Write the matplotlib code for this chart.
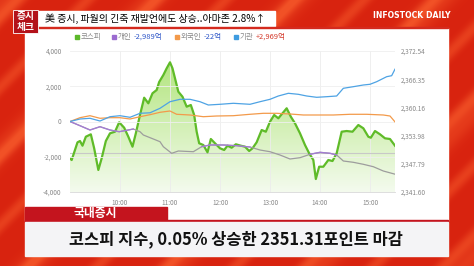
import numpy as np
import matplotlib.pyplot as plt
from matplotlib.patches import Rectangle
from matplotlib.colors import LinearSegmentedColormap

plt.rcParams['font.family'] = ['Noto Sans CJK KR', 'DejaVu Sans']

# minutes after 09:00
kospi_t = [0, 2, 9, 12, 15, 19, 25, 29, 34, 38, 43, 48, 54, 59, 65, 70, 75, 79, 84, 89,
           94, 99, 104, 107, 112, 116, 120, 123, 126, 130, 135, 140, 145, 149, 152, 155,
           160, 165, 169, 174, 180, 185, 189, 194, 199, 205, 210, 215, 219, 224, 230,
           235, 240, 245, 250, 255, 260, 265, 270, 276, 282, 287, 292, 295, 299, 304,
           310, 315, 320, 326, 332, 339, 346, 352, 358, 361, 366, 372, 378, 384, 390]
kospi = [2348.99, 2348.62, 2352.50, 2352.79, 2351.76, 2353.73, 2354.26, 2351.19, 2346.43,
         2348.99, 2352.79, 2354.48, 2354.83, 2356.89, 2355.71, 2353.73, 2351.54, 2354.48,
         2358.50, 2362.29, 2361.06, 2363.26, 2363.98, 2365.74, 2367.27, 2368.74, 2370.06,
         2368.74, 2366.55, 2363.61, 2362.51, 2360.32, 2360.69, 2358.50, 2354.83, 2352.29,
         2351.91, 2350.31, 2353.23, 2352.29, 2351.19, 2350.82, 2351.76, 2351.32, 2352.07,
         2351.76, 2351.54, 2350.60, 2351.19, 2352.51, 2355.20, 2354.83, 2357.03, 2358.50,
         2357.77, 2358.87, 2359.97, 2358.12, 2356.67, 2354.48, 2351.91, 2350.09, 2348.62,
         2344.45, 2347.15, 2347.15, 2348.62, 2348.40, 2350.09, 2354.83, 2354.98, 2354.83,
         2356.30, 2355.58, 2353.73, 2353.51, 2354.98, 2354.26, 2353.38, 2353.23, 2351.76]
kospi_prev = 2350.13

indiv_t = [0, 12, 24, 36, 48, 59, 70, 76, 84, 88, 100, 108, 112, 122, 130, 148, 158, 168,
           184, 200, 216, 228, 240, 252, 264, 276, 288, 300, 312, 320, 328, 340, 352, 364,
           376, 390]
individual = [0, -238, -482, -295, -482, -579, -482, -426, -579, -766, -993, -1146, -1430,
              -1804, -1674, -1714, -1430, -1333, -1333, -1373, -1447, -1617, -1714, -1901,
              -2128, -2054, -1861, -1748, -1804, -1901, -2241, -2315, -2428, -2565, -2809,
              -2989]
# stretches where the individual line shows in purple (minutes)
indiv_purple = [(0, 80), (154, 226), (284, 322)]

foreign_t = [0, 12, 24, 36, 48, 60, 72, 84, 96, 108, 120, 128, 144, 160, 176, 196, 216,
             232, 248, 264, 280, 296, 316, 336, 356, 376, 384, 390]
foreign = [0, 216, 329, 182, 216, 216, 142, 272, 386, 522, 596, 409, 369, 272, 312, 329,
           409, 465, 465, 426, 369, 369, 369, 409, 409, 369, 312, -22]

inst_t = [0, 12, 24, 36, 48, 60, 72, 84, 96, 108, 120, 132, 144, 156, 166, 180, 196, 216,
          228, 240, 250, 262, 274, 284, 296, 308, 320, 328, 340, 352, 360, 368, 380, 386,
          390]
institution = [0, 142, 182, 28, 272, 329, 238, 465, 494, 749, 1123, 1259, 1259, 1123, 936,
               976, 1033, 976, 1123, 1259, 1447, 1600, 1543, 1447, 1373, 1407, 1447, 1884,
               1975, 2071, 2111, 2258, 2542, 2599, 2969]

hour_ticks = [60, 120, 180, 240, 300, 360]
hour_labels = ['10:00', '11:00', '12:00', '13:00', '14:00', '15:00']
left_ticks = [-4000, -2000, 0, 2000, 4000]
right_ticks = [2341.60, 2347.79, 2353.98, 2360.16, 2366.35, 2372.54]

W, H = 474, 266
fig = plt.figure(figsize=(W / 100, H / 100), dpi=100)

# red background with soft diagonal streaks
bg = fig.add_axes([0, 0, 1, 1])
bg.set_xlim(0, W)
bg.set_ylim(H, 0)
bg.axis('off')
xx, yy = np.meshgrid(np.arange(W), np.arange(H))
d = xx + yy
streak = (np.clip(np.sin(d / 11.0), 0, 1) ** 3 * 0.6
          + np.clip(np.sin(d / 23.0 + 1.3), 0, 1) ** 4 * 0.5)
streak = np.clip(streak, 0, 1)
base = np.array([0.85, 0.14, 0.06])
hi = np.array([0.98, 0.38, 0.18])
img = base + (hi - base) * streak[..., None] * 0.75
bg.imshow(img, extent=[0, W, H, 0], aspect='auto', zorder=0)

# header
bg.add_patch(Rectangle((38, 11), 237, 15, color='white', zorder=2))
bg.add_patch(Rectangle((13, 10), 25, 23, facecolor='#b3121a', edgecolor='white', lw=0.6, zorder=3))
bg.text(25.5, 16.5, '증시', color='white', fontsize=7, fontweight='bold', ha='center', va='center', zorder=4)
bg.text(25.5, 27, '체크', color='white', fontsize=7, fontweight='bold', ha='center', va='center', zorder=4)
bg.text(45, 18.5, '美 증시, 파월의 긴축 재발언에도 상승..아마존 2.8%↑', fontsize=7.2,
        color='black', ha='left', va='center', zorder=4)
bg.text(412, 15.5, 'INFOSTOCK DAILY', color='white', fontsize=5.6, fontweight='bold',
        family='DejaVu Sans', ha='center', va='center', zorder=4)

# chart panel
bg.add_patch(Rectangle((25, 28), 423, 193, color='white', zorder=2))
bg.add_patch(Rectangle((25, 27), 423, 1, color='#d42a1e', zorder=2))

# legend
leg = [(77, '#5cb82a', '코스피', None, None),
       (114, '#9b6bd0', '개인', '-2,989억', '#2f57c8'),
       (177, '#f39a4a', '외국인', '-22억', '#2f57c8'),
       (236, '#3f9ce0', '기관', '+2,969억', '#d43a2c')]
for x0, c, name, val, vc in leg:
    bg.add_patch(Rectangle((x0 - 2, 35), 4, 4, color=c, zorder=4))
    t = bg.text(x0 + 4, 37, name, fontsize=5.4, color='#888888', ha='left', va='center', zorder=4)
    if val:
        bg.annotate(val, xycoords=t, xy=(1, 0.5), xytext=(1.5, 0), textcoords='offset points',
                    fontsize=5.4, color=vc, ha='left', va='center', zorder=4)

# bottom caption
bg.add_patch(Rectangle((25, 207), 142, 14, color='#c4141e', zorder=3))
bg.add_patch(Rectangle((25, 220), 423, 2, color='#c4141e', zorder=3))
bg.text(95, 214, '국내증시', color='white', fontsize=8.5, fontweight='bold', ha='center', va='center', zorder=4)
bg.add_patch(Rectangle((25, 222), 423, 34, color='#f4f4f6', zorder=3))
bg.text(236, 239.5, '코스피 지수, 0.05% 상승한 2351.31포인트 마감', fontsize=11.8,
        fontweight='bold', color='#111111', ha='center', va='center', zorder=4)

# chart axes
left, right, top, bottom = 70, 395, 51, 192
ax_k = fig.add_axes([left / W, (H - bottom) / H, (right - left) / W, (bottom - top) / H])
ax_k.set_facecolor('none')

fill = ax_k.fill_between(kospi_t, kospi, right_ticks[0], color='none', lw=0)
grad = np.linspace(1, 0, 256).reshape(-1, 1)
cmap = LinearSegmentedColormap.from_list('g', ['#f4fbee', '#b3e57f'])
im = ax_k.imshow(grad, cmap=cmap, extent=[0, 390, right_ticks[0], max(kospi)],
                 aspect='auto', origin='upper', zorder=1)
im.set_clip_path(fill.get_paths()[0], transform=ax_k.transData)
ax_k.axhline(kospi_prev, color='#c8c8c8', lw=0.8, zorder=2)
ax_k.plot(kospi_t, kospi, color='#5fbb28', lw=1.6, zorder=3)
ax_k.set_xlim(0, 390)
ax_k.set_ylim(right_ticks[0], right_ticks[-1])

ax_k.set_xticks(hour_ticks)
ax_k.set_xticklabels(hour_labels)
ax_k.set_yticks(right_ticks)
ax_k.set_yticklabels([f'{v:,.2f}' for v in right_ticks])
ax_k.grid(axis='x', color='#ececec', lw=0.6)
for s in ['left', 'right', 'top']:
    ax_k.spines[s].set_visible(False)
ax_k.spines['bottom'].set_color('#d8d8d8')
ax_k.spines['bottom'].set_linewidth(0.6)

ax_i = ax_k.twinx()
ax_i.set_ylim(-4000, 4000)
ax_i.set_xlim(0, 390)
for y in [-2000, 0, 2000, 4000]:
    ax_i.axhline(y, color='#efefef', lw=0.6, zorder=0)
ax_i.plot(indiv_t, individual, color='#9d9d9d', lw=0.9, zorder=3)
for a, b in indiv_purple:
    seg_t = [t for t in indiv_t if a <= t <= b]
    seg_v = [v for t, v in zip(indiv_t, individual) if a <= t <= b]
    ax_i.plot(seg_t, seg_v, color='#a47bd6', lw=0.9, zorder=3)
ax_i.plot(foreign_t, foreign, color='#f39a4a', lw=0.9, zorder=3)
ax_i.plot(inst_t, institution, color='#4ea3e4', lw=0.9, zorder=3)
ax_i.set_yticks(left_ticks)
ax_i.set_yticklabels([f'{v:,}' for v in left_ticks])
for s in ax_i.spines.values():
    s.set_visible(False)

# twinx moves the first axis' ticks to the left, so place both sides here
ax_i.yaxis.tick_left()
ax_k.yaxis.tick_right()
ax_i.tick_params(axis='y', length=0, pad=6, labelsize=4.6, labelcolor='#888888')
ax_k.tick_params(axis='y', length=0, pad=4, labelsize=4.6, labelcolor='#888888')
ax_k.tick_params(axis='x', length=0, pad=5, labelsize=4.6, labelcolor='#888888')

fig.savefig('out.png', dpi=100)
